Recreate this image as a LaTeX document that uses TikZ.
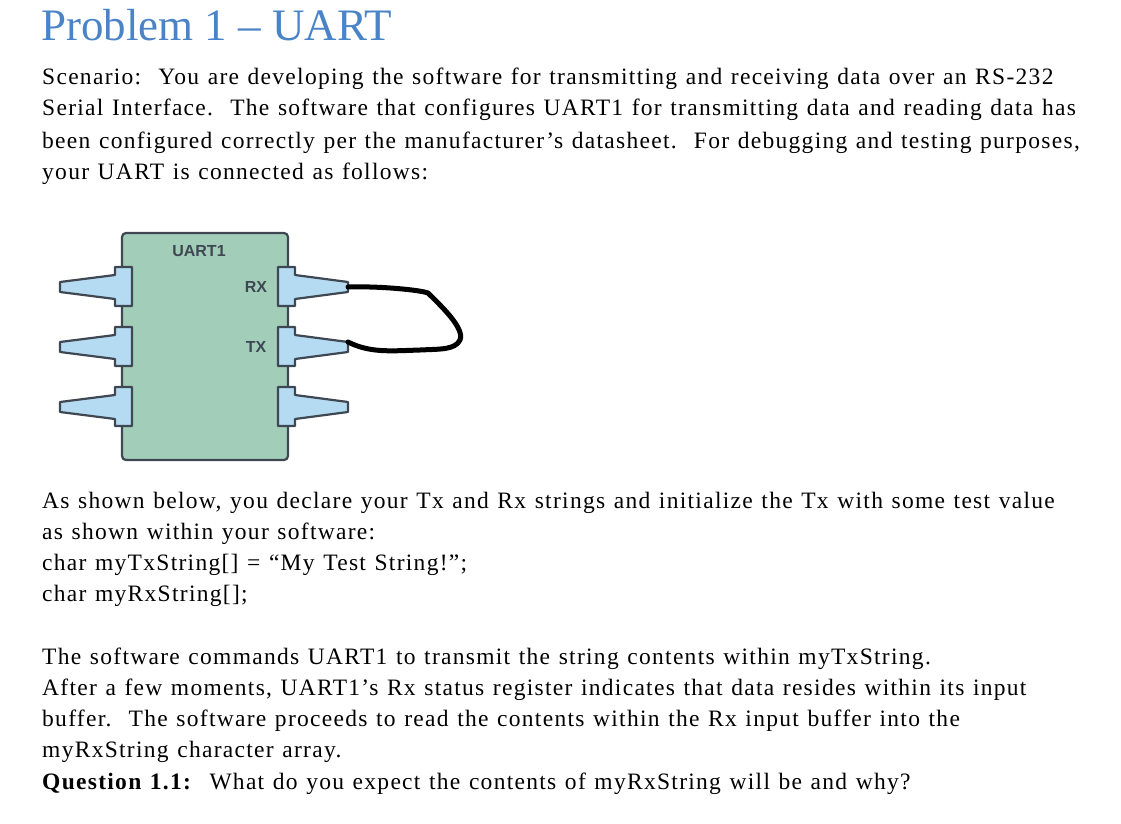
\documentclass[tikz,border=0pt]{standalone}
\usepackage{fontspec}
\setmainfont{Liberation Serif}
\newfontfamily\bodyfont[LetterSpace=5.5,WordSpace=1.2]{Liberation Serif}
\newfontfamily\lsans{Liberation Sans}
\definecolor{boxgreen}{HTML}{A2CDB9}
\definecolor{pinblue}{HTML}{B5DBF3}
\definecolor{edge}{HTML}{3E4752}
\definecolor{titleblue}{HTML}{4A84C6}
\tikzset{
  txt/.style={anchor=base west, inner sep=0pt, font=\bodyfont\fontsize{23.5}{28}\selectfont},
  lbl/.style={inner sep=0pt, font=\lsans\bfseries\fontsize{16}{18}\selectfont, text=edge},
  pin/.style={fill=pinblue, draw=edge, line width=2.2pt, line join=round},
}
\begin{document}
\begin{tikzpicture}[x=1pt,y=-1pt]
\useasboundingbox (0,0) rectangle (1121,824);
\node[txt, font=\fontsize{45}{50}\selectfont, text=titleblue] (title) at (41,41) {Problem 1 -- UART};
\node[txt] (l1) at (42,85) {Scenario:\ \ You are developing the software for transmitting and receiving data over an RS-232};
\node[txt] (l2) at (42,116) {Serial Interface.\ \ The software that configures UART1 for transmitting data and reading data has};
\node[txt] (l3) at (42,148) {been configured correctly per the manufacturer’s datasheet.\ \ For debugging and testing purposes,};
\node[txt] (l4) at (42,179) {your UART is connected as follows:};
\node[txt] (m1) at (42,508) {As shown below, you declare your Tx and Rx strings and initialize the Tx with some test value};
\node[txt] (m2) at (42,539) {as shown within your software:};
\node[txt] (m3) at (42,570) {char myTxString[] = “My Test String!”;};
\node[txt] (m4) at (42,601) {char myRxString[];};
\node[txt] (n1) at (42,664) {The software commands UART1 to transmit the string contents within myTxString.};
\node[txt] (n2) at (42,695) {After a few moments, UART1’s Rx status register indicates that data resides within its input};
\node[txt] (n3) at (42,726) {buffer.\ \ The software proceeds to read the contents within the Rx input buffer into the};
\node[txt] (n4) at (42,757) {myRxString character array.};
\node[txt] (n5) at (42,789) {\textbf{Question 1.1:}\ \ What do you expect the contents of myRxString will be and why?};
% chip
\draw[fill=boxgreen, draw=edge, line width=2.2pt, rounded corners=4pt] (122,233) rectangle (288,460);
\foreach \yc in {287,347,407}{
  \draw[pin] (132,\yc-20) -- (115,\yc-20) -- (115,\yc-12) -- (60,\yc-5) -- (60,\yc+5) -- (115,\yc+12) -- (115,\yc+19) -- (132,\yc+19) -- cycle;
  \draw[pin] (278,\yc-20) -- (295,\yc-20) -- (295,\yc-12) -- (348,\yc-5) -- (348,\yc+5) -- (295,\yc+12) -- (295,\yc+19) -- (278,\yc+19) -- cycle;
}
\coordinate (rxend) at (348,287);
\coordinate (txend) at (348,342);
\node[lbl] (uart) at (199,251) {UART1};
\node[lbl] (rx) at (256,287) {RX};
\node[lbl] (tx) at (256,347) {TX};
\draw[line width=5pt, line cap=round, line join=round] (rxend) .. controls (380,286) and (420,290) .. (428,293)
  .. controls (440,305) and (465,328) .. (460,340)
  .. controls (455,350) and (440,349) .. (420,350)
  .. controls (390,351) and (370,353) .. (txend);
\end{tikzpicture}
\end{document}
